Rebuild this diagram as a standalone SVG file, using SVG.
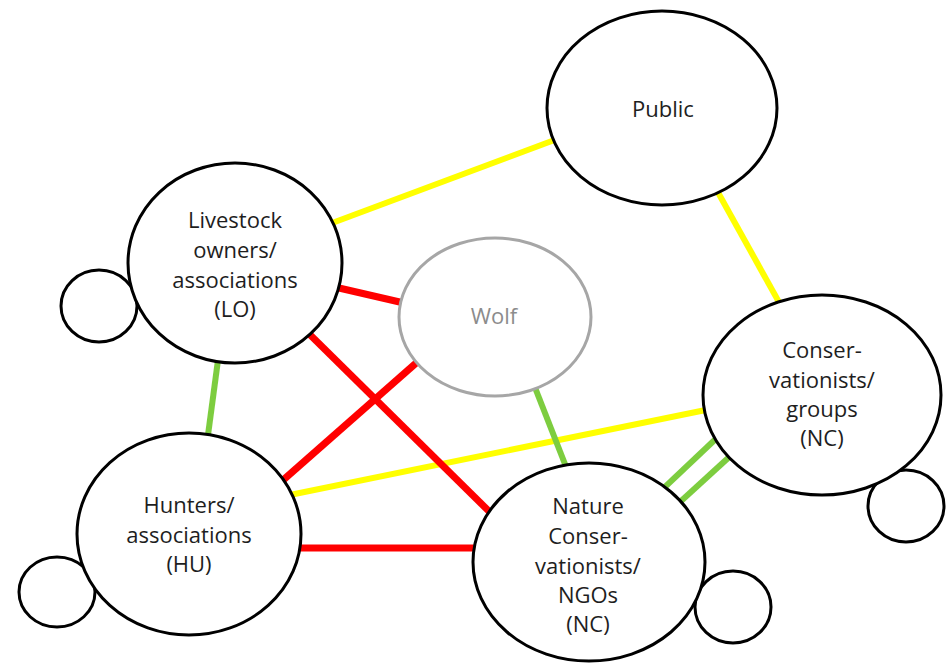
<svg xmlns="http://www.w3.org/2000/svg" width="950" height="664" viewBox="0 0 950 664">
<style>
.n{fill:#fff;stroke:#000;stroke-width:3}
.w{fill:#fff;stroke:#a6a6a6;stroke-width:3}
.t{font-family:"Open Sans","Liberation Sans",sans-serif;font-size:22px;fill:#1e1e1e;text-anchor:middle}
.tw{fill:#8c8c8c}
.r{stroke:#ff0000;stroke-width:7;fill:none}
.y{stroke:#ffff00;stroke-width:6;fill:none}
.g{stroke:#7dcd3f;stroke-width:6;fill:none}
</style>
<rect width="950" height="664" fill="#fff"/>
<g id="connectors">
<line class="y" x1="300" y1="235" x2="600" y2="123"/>
<line class="y" x1="700" y1="160" x2="800" y2="340"/>
<line class="y" x1="280" y1="497" x2="740" y2="403"/>
<line class="r" x1="300" y1="279" x2="430" y2="309"/>
<line class="r" x1="290" y1="315" x2="510" y2="532"/>
<line class="r" x1="265" y1="496" x2="440" y2="342"/>
<line class="r" x1="290" y1="548" x2="490" y2="548"/>
<line class="g" x1="220" y1="345" x2="206" y2="450"/>
<line class="g" x1="525" y1="362" x2="572" y2="482"/>
<line class="g" x1="630" y1="520" x2="740" y2="416"/>
<line class="g" x1="645" y1="534" x2="750" y2="438"/>
</g>
<g id="public">
<ellipse class="n" cx="662" cy="108" rx="115" ry="97"/>
<text class="t" x="663" y="117">Public</text>
</g>
<g id="lo-small"><ellipse class="n" cx="99" cy="306" rx="38" ry="36"/></g>
<g id="lo">
<ellipse class="n" cx="235" cy="263" rx="107" ry="100"/>
<text class="t" x="235" y="228">Livestock</text>
<text class="t" x="235" y="258">owners/</text>
<text class="t" x="235" y="288">associations</text>
<text class="t" x="235" y="317">(LO)</text>
</g>
<g id="wolf">
<ellipse class="w" cx="495" cy="317" rx="96" ry="79"/>
<text class="t tw" x="494" y="324">Wolf</text>
</g>
<g id="nc-groups-small"><ellipse class="n" cx="906" cy="506" rx="38" ry="36"/></g>
<g id="nc-groups">
<ellipse class="n" cx="822" cy="395" rx="119" ry="100"/>
<text class="t" x="822" y="358">Conser-</text>
<text class="t" x="822" y="388">vationists/</text>
<text class="t" x="822" y="417">groups</text>
<text class="t" x="822" y="446">(NC)</text>
</g>
<g id="hu-small"><ellipse class="n" cx="57" cy="592" rx="38" ry="35"/></g>
<g id="hu">
<ellipse class="n" cx="189" cy="534" rx="112" ry="101"/>
<text class="t" x="189" y="513">Hunters/</text>
<text class="t" x="189" y="543">associations</text>
<text class="t" x="189" y="572">(HU)</text>
</g>
<g id="ngo-small"><ellipse class="n" cx="733" cy="607" rx="38" ry="36"/></g>
<g id="ngo">
<ellipse class="n" cx="589" cy="562" rx="116" ry="99"/>
<text class="t" x="588" y="514">Nature</text>
<text class="t" x="588" y="544">Conser-</text>
<text class="t" x="588" y="574">vationists/</text>
<text class="t" x="588" y="603">NGOs</text>
<text class="t" x="588" y="632">(NC)</text>
</g>
</svg>
